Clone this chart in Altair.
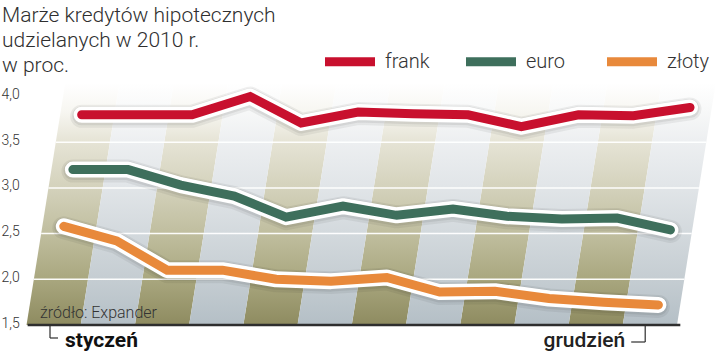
import altair as alt
import pandas as pd

# ---------------- data ----------------
months = ["styczeń", "luty", "marzec", "kwiecień", "maj", "czerwiec",
          "lipiec", "sierpień", "wrzesień", "październik", "listopad", "grudzień"]
series_names = ["frank", "euro", "złoty"]
frank = [3.80, 3.80, 3.80, 4.00, 3.71, 3.83, 3.81, 3.80, 3.67, 3.80, 3.79, 3.88]
euro = [3.20, 3.20, 3.03, 2.91, 2.68, 2.80, 2.70, 2.77, 2.69, 2.66, 2.67, 2.54]
zloty = [2.58, 2.42, 2.10, 2.10, 2.00, 1.98, 2.02, 1.86, 1.87, 1.79, 1.75, 1.72]
y_ticks = [1.5, 2.0, 2.5, 3.0, 3.5, 4.0]
grid_values = [2.0, 2.5, 3.0, 3.5]
title_lines = ["Marże kredytów hipotecznych", "udzielanych w 2010 r.", "w proc."]
source_text = "źródło: Expander"

# ---------------- styling / layout constants ----------------
colors = ["#c8102e", "#3e6f5c", "#e8893b"]
FONT = "Roboto"
SKEW = 0.265          # perspective skew (month units per value unit)
BASE = 1.5
STRIPE_X0 = -0.389
STRIPE_W = 0.982
STRIPE_TOP = 4.15
N = len(months)

xs = alt.Scale(domain=[-0.8696, 12.1739], nice=False, zero=False)
ys = alt.Scale(domain=[1.1937, 5.0558], nice=False, zero=False)

yax = alt.Axis(
    orient="left", values=y_ticks, title=None, grid=False, domain=False,
    ticks=False, tickSize=0, labelPadding=0, offset=-1, labelAlign="left",
    labelBaseline="middle", labelOffset=-2,
    labelExpr="replace(format(datum.value, '.1f'), '.', ',')",
    labelFont=FONT, labelFontSize=14, labelFontWeight=300, labelColor="#333333",
)

# long table of the series
rows = []
for s, vals in zip(series_names, [frank, euro, zloty]):
    for i, v in enumerate(vals):
        rows.append({"series": s, "i": i, "month": months[i], "v": v})
df = pd.DataFrame(rows)

# background stripes (one per month)
stripe_rows = []
for j in range(N):
    for v in [BASE, STRIPE_TOP]:
        stripe_rows.append({"j": j, "v": v, "kind": "olive" if j % 2 == 0 else "light"})
sdf = pd.DataFrame(stripe_rows)


def grad(stops):
    return alt.LinearGradient(
        gradient="linear", x1=0, x2=0, y1=0, y2=1,
        stops=[alt.GradientStop(offset=o, color=c) for o, c in stops],
    )


olive_grad = grad([(0, "#ffffff"), (0.12, "#f7f6f1"), (0.24, "#e6e4d6"),
                   (0.43, "#d4d2bc"), (0.62, "#c0be9f"), (0.81, "#a9a77f"),
                   (1, "#8e8b60")])
light_grad = grad([(0, "#ffffff"), (0.12, "#f7f8f8"), (0.24, "#edeff1"),
                   (0.43, "#e1e5e8"), (0.62, "#d3d9dd"), (0.81, "#c5cdd2"),
                   (1, "#b4bfc6")])

stripe_base = alt.Chart(sdf).transform_calculate(
    xl=f"{STRIPE_X0} + datum.j * {STRIPE_W} + {SKEW} * (datum.v - {BASE})"
).transform_calculate(
    xr=f"datum.xl + {STRIPE_W}"
)
stripe_enc = dict(
    y=alt.Y("v:Q", scale=ys, axis=yax),
    x=alt.X("xl:Q", scale=xs, axis=None),
    x2="xr:Q",
    detail="j:N",
)
olive = stripe_base.transform_filter("datum.kind == 'olive'").mark_area(
    orient="horizontal", fill=olive_grad).encode(**stripe_enc)
light = stripe_base.transform_filter("datum.kind == 'light'").mark_area(
    orient="horizontal", fill=light_grad).encode(**stripe_enc)

# white grid lines
grid = alt.Chart(pd.DataFrame({"v": grid_values})).transform_calculate(
    xl=f"{STRIPE_X0} + {SKEW} * (datum.v - {BASE})",
    xr=f"{STRIPE_X0} + {N * STRIPE_W} + {SKEW} * (datum.v - {BASE})",
).mark_rule(color="#ffffff", strokeWidth=1.5, opacity=0.95).encode(
    y=alt.Y("v:Q", scale=ys, axis=yax),
    x=alt.X("xl:Q", scale=xs, axis=None),
    x2="xr:Q",
)

# baseline
baseline = alt.Chart(pd.DataFrame({"v": [BASE]})).transform_calculate(
    xl=f"{STRIPE_X0} + 0.02",
    xr=f"{STRIPE_X0} + {N * STRIPE_W} + 0.06",
).mark_rule(color="#2e2e2e", strokeWidth=2.5).encode(
    y=alt.Y("v:Q", scale=ys, axis=yax),
    x=alt.X("xl:Q", scale=xs, axis=None),
    x2="xr:Q",
)

line_base = alt.Chart(df).transform_calculate(
    u=f"datum.i + {SKEW} * (datum.v - {BASE})"
)
lenc = dict(
    x=alt.X("u:Q", scale=xs, axis=None),
    y=alt.Y("v:Q", scale=ys, axis=yax),
    order=alt.Order("i:Q"),
)
shadow1 = line_base.mark_line(color="#000000", opacity=0.06, strokeWidth=23,
                              strokeCap="round", strokeJoin="round", yOffset=1.5
                              ).encode(detail="series:N", **lenc)
shadow2 = line_base.mark_line(color="#000000", opacity=0.07, strokeWidth=19,
                              strokeCap="round", strokeJoin="round", yOffset=1
                              ).encode(detail="series:N", **lenc)
white = line_base.mark_line(color="#ffffff", strokeWidth=16, strokeCap="round",
                            strokeJoin="round").encode(detail="series:N", **lenc)
colored = line_base.mark_line(strokeWidth=9, strokeCap="round").encode(
    color=alt.Color(
        "series:N",
        scale=alt.Scale(domain=series_names, range=colors),
        legend=alt.Legend(
            title=None, orient="none", legendX=320.5, legendY=32,
            direction="horizontal", columns=3, gridAlign="all", columnPadding=17,
            symbolType="stroke", symbolSize=2500, symbolStrokeWidth=9,
            labelFont=FONT, labelFontSize=20, labelFontWeight=300,
            labelColor="#333333", labelOffset=5.5, padding=0,
        ),
    ),
    **lenc,
)

# month edge labels with bracket ticks
edge = pd.DataFrame({"i": [0, N - 1], "label": [months[0], months[-1]], "v": [BASE, BASE]})
first = alt.Chart(edge).transform_filter("datum.i == 0")
last = alt.Chart(edge).transform_filter(f"datum.i == {N - 1}")
xe = alt.X("i:Q", scale=xs, axis=None)

jan_v = first.mark_rule(color="#2e2e2e", strokeWidth=1.2, xOffset=2).encode(
    x=xe, y=alt.Y("v:Q", scale=ys, axis=yax), y2=alt.value(338))
jan_h = first.mark_rule(color="#2e2e2e", strokeWidth=1.2, xOffset=2, x2Offset=10).encode(
    x=xe, x2="i:Q", y=alt.value(338))
jan_t = first.mark_text(align="left", baseline="alphabetic", dx=17, font=FONT,
                        fontSize=21, fontWeight="bold", color="#111111").encode(
    x=xe, y=alt.value(347), text="label:N")

dec_v = last.mark_rule(color="#2e2e2e", strokeWidth=1.2, xOffset=-10).encode(
    x=xe, y=alt.Y("v:Q", scale=ys, axis=yax), y2=alt.value(342))
dec_h = last.mark_rule(color="#2e2e2e", strokeWidth=1.2, xOffset=-24, x2Offset=-10).encode(
    x=xe, x2="i:Q", y=alt.value(342))
dec_t = last.mark_text(align="right", baseline="alphabetic", dx=-30, font=FONT,
                       fontSize=21, fontWeight=500, color="#222222").encode(
    x=xe, y=alt.value(347), text="label:N")

one = pd.DataFrame({"a": [0]})
title = alt.Chart(one).mark_text(
    align="left", baseline="alphabetic", font=FONT, fontSize=21,
    fontWeight=300, color="#2f2f2f", lineHeight=25,
).encode(x=alt.value(2), y=alt.value(22), text=alt.value(title_lines))

source = alt.Chart(one).mark_text(
    align="left", baseline="alphabetic", font=FONT, fontSize=16,
    fontWeight=300, color="#333333",
).encode(x=alt.value(40), y=alt.value(318), text=alt.value(source_text))

chart = alt.layer(
    olive, light, grid, baseline, shadow1, shadow2, white, colored,
    jan_v, jan_h, jan_t, dec_v, dec_h, dec_t, title, source,
).properties(
    width=720, height=353,
    autosize=alt.AutoSizeParams(type="none"),
    padding={"left": 0, "top": 0, "right": 0, "bottom": 0},
    background="#ffffff",
).configure_view(stroke=None)

chart.save("out.html", embed_options={"renderer": "svg", "actions": False})
